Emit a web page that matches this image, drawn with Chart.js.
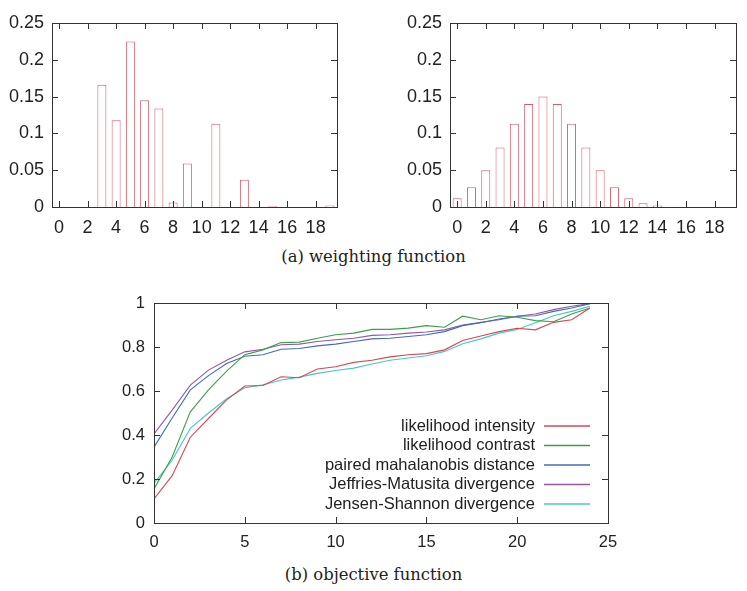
<!DOCTYPE html>
<html>
<head>
<meta charset="utf-8">
<script src="https://cdn.jsdelivr.net/npm/chart.js@4.4.0/dist/chart.umd.min.js"></script>
<style>
  body { margin: 0; background: #fff; width: 747px; height: 591px; position: relative; overflow: hidden; }
  canvas { position: absolute; }
  .cap { position: absolute; left: 0; width: 747px; text-align: center; color: #222;
         font-family: "DejaVu Serif", "Liberation Serif", serif; font-size: 16.4px; line-height: 20px; }
</style>
</head>
<body>
<canvas id="wa" width="360" height="240" style="left:0;top:0"></canvas>
<canvas id="wb" width="370" height="240" style="left:377px;top:0"></canvas>
<div class="cap" style="top:247px">(a) weighting function</div>
<canvas id="obj" width="640" height="280" style="left:0;top:280px"></canvas>
<div class="cap" style="top:565px">(b) objective function</div>

<script>
// weighting functions (bins 0..19)
const bins = [0,1,2,3,4,5,6,7,8,9,10,11,12,13,14,15,16,17,18,19];
const binTicks = [0,2,4,6,8,10,12,14,16,18];
const weightA = [0,0,0,0.166,0.118,0.225,0.145,0.134,0.006,0.059,0,0.113,0,0.037,0,0.001,0,0,0,0.002];
const weightB = [0.012,0.027,0.050,0.081,0.113,0.140,0.150,0.140,0.113,0.081,0.050,0.027,0.012,0.005,0.002,0.0005,0,0,0,0];

// objective functions (steps 0..24)
const steps = [0,1,2,3,4,5,6,7,8,9,10,11,12,13,14,15,16,17,18,19,20,21,22,23,24];
const intensity   = [0.11,0.215,0.39,0.475,0.56,0.623,0.625,0.665,0.66,0.70,0.71,0.73,0.74,0.755,0.765,0.77,0.787,0.83,0.85,0.87,0.885,0.878,0.912,0.924,0.977];
const contrast    = [0.155,0.30,0.505,0.605,0.69,0.765,0.787,0.82,0.822,0.84,0.856,0.863,0.88,0.88,0.886,0.897,0.89,0.94,0.924,0.942,0.935,0.92,0.915,0.95,0.977];
const mahalanobis = [0.345,0.477,0.605,0.67,0.725,0.758,0.765,0.79,0.793,0.805,0.813,0.825,0.837,0.84,0.848,0.856,0.87,0.897,0.91,0.927,0.94,0.942,0.962,0.977,0.997];
const jeffries    = [0.405,0.513,0.627,0.695,0.74,0.778,0.79,0.81,0.813,0.825,0.833,0.84,0.853,0.856,0.863,0.868,0.878,0.90,0.912,0.924,0.94,0.95,0.97,0.985,0.997];
const jensen      = [0.18,0.285,0.43,0.50,0.565,0.615,0.628,0.65,0.663,0.68,0.693,0.704,0.723,0.74,0.75,0.76,0.78,0.815,0.837,0.863,0.88,0.91,0.942,0.962,0.985];

const seriesNames = ['likelihood intensity', 'likelihood contrast', 'paired mahalanobis distance',
                     'Jeffries-Matusita divergence', 'Jensen-Shannon divergence'];
const seriesColors = ['rgb(214,72,84)', 'rgb(60,160,75)', 'rgb(62,110,185)', 'rgb(150,85,170)', 'rgb(70,200,200)'];

const FONT = '"Liberation Sans", Arial, sans-serif';
const fmt = v => String(+Number(v).toFixed(2));

// gnuplot-like box with inward ticks on every side
const boxTicks = {
  id: 'boxTicks',
  afterDraw(chart) {
    const { ctx, chartArea: a, scales } = chart;
    const len = 6;
    ctx.save();
    ctx.strokeStyle = '#333';
    ctx.lineWidth = 1;
    ctx.strokeRect(Math.round(a.left) + 0.5, Math.round(a.top) + 0.5, Math.round(a.width), Math.round(a.height));
    ctx.beginPath();
    scales.x.ticks.forEach(t => {
      const px = Math.round(scales.x.getPixelForValue(t.value)) + 0.5;
      ctx.moveTo(px, a.bottom); ctx.lineTo(px, a.bottom - len);
      ctx.moveTo(px, a.top); ctx.lineTo(px, a.top + len);
    });
    scales.y.ticks.forEach(t => {
      const py = Math.round(scales.y.getPixelForValue(t.value)) + 0.5;
      ctx.moveTo(a.left, py); ctx.lineTo(a.left + len, py);
      ctx.moveTo(a.right, py); ctx.lineTo(a.right - len, py);
    });
    ctx.stroke();
    ctx.restore();
  }
};

// legend inside the plot, text right-aligned before the line sample
const boxLegend = {
  id: 'boxLegend',
  afterDatasetsDraw(chart) {
    const { ctx, chartArea: a } = chart;
    ctx.save();
    ctx.font = '16.5px ' + FONT;
    ctx.textAlign = 'right';
    ctx.textBaseline = 'middle';
    chart.data.datasets.forEach((ds, i) => {
      const y = a.bottom - 97 + i * 19.5;
      ctx.fillStyle = '#222';
      ctx.fillText(ds.label, a.right - 73, y);
      ctx.strokeStyle = ds.borderColor;
      ctx.lineWidth = 1.3;
      ctx.beginPath();
      ctx.moveTo(a.right - 64, y);
      ctx.lineTo(a.right - 18, y);
      ctx.stroke();
    });
    ctx.restore();
  }
};

function barChart(id, values, yWidth, padRight) {
  return new Chart(document.getElementById(id), {
    type: 'bar',
    data: {
      datasets: [{
        data: bins.map((b, i) => ({ x: b, y: values[i] })),
        backgroundColor: '#fff',
        borderColor: 'rgb(218,90,100)',
        borderWidth: 1,
        categoryPercentage: 1,
        barPercentage: 0.63
      }]
    },
    options: {
      responsive: false,
      animation: false,
      devicePixelRatio: 1,
      layout: { padding: { top: 23, right: padRight, left: 0, bottom: 0 } },
      plugins: { legend: { display: false }, tooltip: { enabled: false } },
      scales: {
        x: {
          type: 'linear', min: -0.5, max: 19.5, offset: false,
          grid: { display: false, offset: false },
          border: { display: false },
          ticks: { padding: 2, color: '#222', font: { family: FONT, size: 18 }, maxRotation: 0 },
          afterBuildTicks: s => { s.ticks = binTicks.map(v => ({ value: v })); },
          afterFit: s => { s.height = 33; }
        },
        y: {
          min: 0, max: 0.25,
          grid: { display: false },
          border: { display: false },
          ticks: { stepSize: 0.05, padding: 0, color: '#222', font: { family: FONT, size: 18 }, callback: fmt },
          afterFit: s => { s.width = yWidth; }
        }
      }
    },
    plugins: [boxTicks]
  });
}

barChart('wa', weightA, 52, 23);
barChart('wb', weightB, 73, 11);

const objSeries = [intensity, contrast, mahalanobis, jeffries, jensen];

new Chart(document.getElementById('obj'), {
  type: 'line',
  data: {
    datasets: objSeries.map((vals, k) => ({
      label: seriesNames[k],
      data: steps.map((s, i) => ({ x: s, y: vals[i] })),
      borderColor: seriesColors[k],
      borderWidth: 1.1,
      pointRadius: 0,
      tension: 0,
      fill: false
    }))
  },
  options: {
    responsive: false,
    animation: false,
    devicePixelRatio: 1,
    layout: { padding: { top: 23, right: 32, left: 0, bottom: 0 } },
    plugins: { legend: { display: false }, tooltip: { enabled: false } },
    scales: {
      x: {
        type: 'linear', min: 0, max: 25,
        grid: { display: false },
        border: { display: false },
        ticks: { stepSize: 5, padding: 2, color: '#222', font: { family: FONT, size: 16.5 }, maxRotation: 0 },
        afterFit: s => { s.height = 37; }
      },
      y: {
        min: 0, max: 1,
        grid: { display: false },
        border: { display: false },
        ticks: { stepSize: 0.2, padding: 1, color: '#222', font: { family: FONT, size: 16.5 }, callback: fmt },
        afterFit: s => { s.width = 154; }
      }
    }
  },
  plugins: [boxTicks, boxLegend]
});
</script>
</body>
</html>
